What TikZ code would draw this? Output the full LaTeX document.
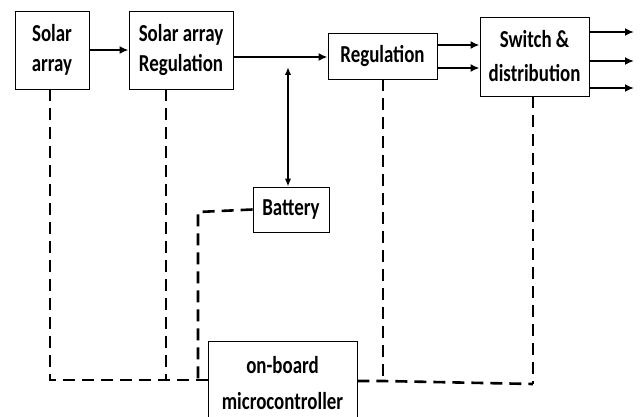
\documentclass[tikz,border=0pt]{standalone}
\usepackage{fontspec}
\usepackage{graphicx}
\setmainfont{Carlito}
\usetikzlibrary{arrows.meta}
\newcommand\stx[1]{\scalebox{0.97}[1.25]{#1}}
\begin{document}
\begin{tikzpicture}[x=1pt,y=-1pt,
  blk/.style={draw,line width=0.9pt,align=center,inner sep=0pt,font=\fontsize{19.5}{30}\selectfont\bfseries},
  arr/.style={line width=2.8pt,-{Latex[length=9pt,width=8pt]}},
  darr/.style={line width=1.6pt,{Latex[length=8pt,width=6.5pt]}-{Latex[length=8pt,width=6.5pt]}},
  dsh/.style={line width=2.6pt,dash pattern=on 12pt off 7pt}]
\useasboundingbox[fill=white] (0,0) rectangle (641,417);
\begin{scope}
\clip (0,0) rectangle (641,417);
\node[blk,minimum width=74pt,minimum height=78pt] (sa) at (52,50) {\stx{Solar}\\\stx{array}};
\node[blk,minimum width=104pt,minimum height=78pt] (sar) at (181,50) {\stx{Solar array}\\\stx{Regulation}};
\node[blk,minimum width=109pt,minimum height=46pt] (reg) at (382.5,56) {\stx{Regulation}};
\node[blk,minimum width=109pt,minimum height=79pt] (sw) at (534.5,56.5) {\stx{Switch \&}\\[4pt]\stx{distribution}};
\node[blk,minimum width=76pt,minimum height=45pt] (bat) at (291,209.5) {\stx{Battery}};
\node[blk,minimum width=149pt,minimum height=84pt,fill=white] (mc) at (282.5,383) {\stx{on-board}\\[6pt]\stx{microcontroller}};
\end{scope}
% solid arrows
\draw[arr] (sa.east) -- (sar.west);
\draw[arr] (sar.east |- 0,57) -- (reg.west |- 0,57);
\coordinate (j) at (288,67);
\draw[darr] (j) -- (bat.north -| j);
\draw[arr] (reg.east |- 0,45) -- (sw.west |- 0,45);
\draw[arr] (reg.east |- 0,68) -- (sw.west |- 0,68);
\coordinate (o1) at (634,32);
\coordinate (o2) at (634,61);
\coordinate (o3) at (634,88);
\draw[arr] (sw.east |- o1) -- (o1);
\draw[arr] (sw.east |- o2) -- (o2);
\draw[arr] (sw.east |- o3) -- (o3);
% dashed control lines
\coordinate (c1) at (50,380);
\coordinate (c2) at (166,380);
\coordinate (c3) at (198,380);
\coordinate (c4) at (383,381);
\coordinate (c5) at (533,384);
\draw[dsh] (sa.south -| c1) -- (c1) -- (mc.west |- c1);
\draw[dsh] (sar.south -| c2) -- (c2);
\draw[dsh] (bat.west) -- (198,212) -- (c3);
\draw[dsh] (reg.south -| c4) -- (c4);
\draw[dsh] (sw.south -| c5) -- (c5);
\draw[dsh] (mc.east |- c4) -- (c4) -- (c5);
\end{tikzpicture}
\end{document}
